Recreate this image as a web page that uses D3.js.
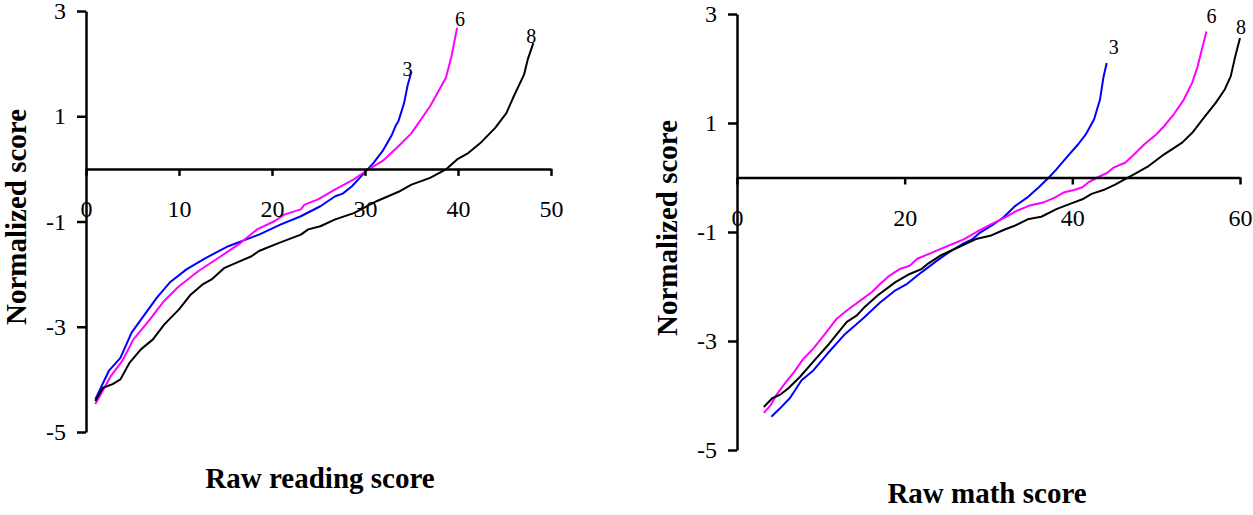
<!DOCTYPE html>
<html>
<head>
<meta charset="utf-8">
<script src="https://cdn.jsdelivr.net/npm/d3@7"></script>
<style>
  body { margin: 0; background: #fff; }
  svg { display: block; font-family: "Liberation Serif", "Times New Roman", serif; }
  .tick text { font-size: 24px; fill: #000; }
  .axisTitle { font-size: 29px; font-weight: bold; }
  .seriesLabel { font-size: 20px; }
</style>
</head>
<body>
<svg id="chart"></svg>
<script>
// tick values
const yTicks = [3, 1, -1, -3, -5];
const readingTicks = [0, 10, 20, 30, 40, 50];
const mathTicks = [0, 20, 40, 60];

// grade labels
const grades = ['3', '6', '8'];

// raw reading score -> normalized score
const reading3 = [[1.0,-4.38],[2.45,-3.84],[3.7,-3.59],[4.9,-3.11],[6.3,-2.77],[7.6,-2.45],[9.0,-2.16],[10.8,-1.91],
  [12.9,-1.69],[15.3,-1.47],[18.6,-1.25],[20.9,-1.06],[23.1,-0.90],[25.2,-0.71],[26.8,-0.52],[27.6,-0.47],[28.6,-0.33],
  [29.9,-0.08],[30.9,0.11],[31.9,0.34],[32.9,0.65],[33.3,0.82],[33.6,0.91],[34.2,1.25],[34.6,1.60],[35.0,1.85]];
const reading6 = [[1.0,-4.47],[2.66,-3.94],[3.9,-3.65],[5.1,-3.24],[6.75,-2.89],[8.4,-2.51],[10.0,-2.23],[12.1,-1.94],
  [14.5,-1.66],[16.6,-1.41],[18.4,-1.15],[20.3,-0.99],[21.3,-0.87],[23.1,-0.77],[23.5,-0.68],[24.96,-0.58],[26.8,-0.39],
  [28.8,-0.20],[30.1,-0.04],[31.9,0.15],[33.6,0.43],[35.0,0.68],[37.0,1.19],[38.7,1.73],[39.3,2.14],[39.9,2.68]];
const reading8 = [[1.0,-4.41],[1.84,-4.16],[2.86,-4.09],[3.7,-4.0],[4.7,-3.68],[5.9,-3.43],[7.2,-3.24],[8.4,-2.96],
  [10.0,-2.67],[11.25,-2.39],[12.5,-2.20],[13.5,-2.10],[14.9,-1.88],[16.2,-1.78],[17.8,-1.66],[18.6,-1.56],[20.7,-1.41],
  [23.1,-1.25],[23.9,-1.15],[25.2,-1.09],[26.8,-0.96],[28.8,-0.84],[31.3,-0.61],[33.8,-0.42],[35.0,-0.30],[37.0,-0.17],
  [38.7,-0.01],[39.9,0.18],[41.1,0.30],[42.4,0.49],[44.0,0.78],[45.2,1.06],[46.0,1.38],[47.1,1.79],[47.5,2.08],[48.1,2.39]];

// raw math score -> normalized score
const math3 = [[4.1,-4.39],[5.1,-4.24],[6.3,-4.05],[7.7,-3.72],[9.1,-3.54],[10.8,-3.23],[12.9,-2.87],[15.0,-2.59],
  [17.1,-2.29],[18.9,-2.07],[20.3,-1.95],[22.0,-1.74],[23.9,-1.52],[25.3,-1.37],[26.9,-1.22],[28.1,-1.13],[29.0,-1.01],
  [30.4,-0.88],[31.8,-0.73],[33.2,-0.52],[34.6,-0.37],[36.0,-0.18],[37.2,0.0],[38.1,0.15],[39.5,0.40],[40.7,0.61],
  [41.6,0.79],[42.6,1.07],[43.3,1.43],[43.7,1.83],[44.1,2.10]];
const math6 = [[3.2,-4.32],[4.0,-4.18],[4.7,-3.99],[5.85,-3.75],[6.8,-3.57],[7.95,-3.32],[9.1,-3.14],[10.5,-2.87],
  [11.9,-2.59],[13.1,-2.44],[14.7,-2.26],[16.1,-2.10],[17.1,-1.95],[18.2,-1.80],[19.4,-1.68],[20.6,-1.62],[21.5,-1.49],
  [22.9,-1.40],[24.3,-1.31],[25.7,-1.22],[27.1,-1.13],[28.8,-0.98],[30.4,-0.85],[32.0,-0.73],[33.4,-0.61],[34.8,-0.52],
  [36.5,-0.46],[37.9,-0.37],[39.05,-0.27],[40.2,-0.23],[41.2,-0.18],[41.9,-0.09],[43.0,0.0],[44.2,0.09],[44.9,0.18],
  [46.3,0.27],[47.2,0.40],[48.6,0.61],[50.0,0.79],[51.0,0.95],[52.1,1.16],[53.3,1.43],[54.3,1.74],[54.95,2.04],
  [55.7,2.50],[56.0,2.68]];
const math8 = [[3.2,-4.21],[4.2,-4.05],[5.1,-3.99],[6.1,-3.87],[7.5,-3.66],[9.1,-3.38],[11.0,-3.05],[13.1,-2.65],
  [14.3,-2.53],[15.2,-2.38],[16.8,-2.16],[18.9,-1.92],[20.6,-1.77],[22.0,-1.68],[22.7,-1.59],[24.3,-1.43],[26.4,-1.28],
  [28.5,-1.13],[30.2,-1.07],[32.0,-0.95],[33.2,-0.88],[34.8,-0.76],[36.3,-0.72],[38.1,-0.58],[39.8,-0.48],[41.2,-0.40],
  [42.3,-0.30],[43.7,-0.23],[45.1,-0.13],[46.3,-0.03],[47.5,0.07],[49.1,0.21],[51.0,0.43],[53.1,0.64],[54.3,0.82],
  [55.7,1.10],[57.1,1.37],[58.2,1.62],[58.9,1.86],[59.4,2.20],[60.0,2.56]];

const width = 1253;
const height = 515;
const colors = ['#0000ff', '#ff00ff', '#000000'];

const svg = d3.select('#chart')
  .attr('width', width)
  .attr('height', height);

function drawPanel(p) {
  const x = d3.scaleLinear().domain(p.xDomain).range(p.xRange);
  const y = d3.scaleLinear().domain([3, -5]).range(p.yRange);
  const g = svg.append('g');

  // curves first, axes drawn over them
  const line = d3.line()
    .x(d => x(d[0]))
    .y(d => y(d[1]));

  p.series.forEach((s, i) => {
    g.append('path')
      .datum(s)
      .attr('fill', 'none')
      .attr('stroke', colors[i])
      .attr('stroke-width', 2)
      .attr('stroke-linejoin', 'round')
      .attr('d', line);

    const last = s[s.length - 1];
    g.append('text')
      .attr('class', 'seriesLabel')
      .attr('x', x(last[0]) + p.labelOffsets[i][0])
      .attr('y', y(last[1]) + p.labelOffsets[i][1])
      .attr('text-anchor', 'middle')
      .text(grades[i]);
  });

  const yAxis = g.append('g')
    .attr('transform', `translate(${x(0)},0)`)
    .call(d3.axisLeft(y).tickValues(yTicks).tickFormat(d3.format('d')).tickSize(9).tickSizeOuter(0).tickPadding(11));

  const xAxis = g.append('g')
    .attr('transform', `translate(0,${y(0)})`)
    .call(d3.axisBottom(x).tickValues(p.xTicks).tickSize(7).tickSizeOuter(0).tickPadding(24));

  [yAxis, xAxis].forEach(a => {
    a.attr('font-family', null).attr('font-size', null);
    a.select('.domain').attr('stroke', '#000').attr('stroke-width', 2.5);
    a.selectAll('.tick line').attr('stroke', '#000').attr('stroke-width', 2.5);
  });
  yAxis.selectAll('.tick text').text(d => d < 0 ? '-' + Math.abs(d) : d);

  g.append('text')
    .attr('class', 'axisTitle')
    .attr('transform', `translate(${p.yTitle[0]},${p.yTitle[1]}) rotate(-90)`)
    .attr('text-anchor', 'middle')
    .attr('dominant-baseline', 'central')
    .text('Normalized score');

  g.append('text')
    .attr('class', 'axisTitle')
    .attr('x', p.xTitle[0])
    .attr('y', p.xTitle[1])
    .attr('text-anchor', 'middle')
    .text(p.xLabel);
}

drawPanel({
  xDomain: [0, 50], xRange: [86, 551], yRange: [11, 432],
  xTicks: readingTicks,
  series: [reading3, reading6, reading8],
  labelOffsets: [[-4, 4], [3, -2], [-2, 0]],
  yTitle: [16, 217], xTitle: [320, 488],
  xLabel: 'Raw reading score'
});

drawPanel({
  xDomain: [0, 60], xRange: [737, 1240], yRange: [14, 450],
  xTicks: mathTicks,
  series: [math3, math6, math8],
  labelOffsets: [[7, -9], [5, -8], [1, -4]],
  yTitle: [667, 228], xTitle: [987, 503],
  xLabel: 'Raw math score'
});
</script>
</body>
</html>
